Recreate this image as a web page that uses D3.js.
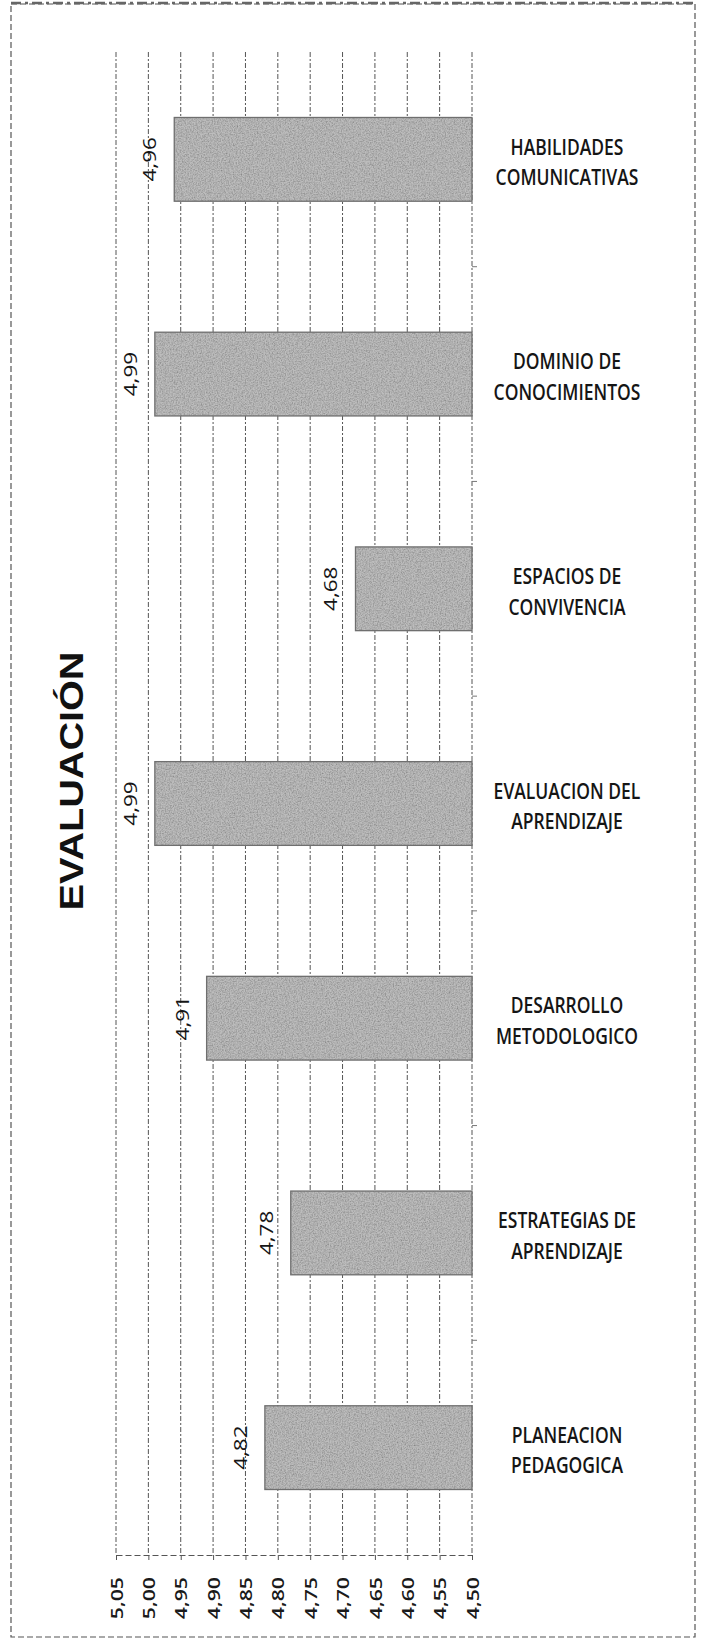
<!DOCTYPE html>
<html>
<head>
<meta charset="utf-8">
<script src="https://cdn.jsdelivr.net/npm/d3@7/dist/d3.min.js"></script>
<style>
  html, body { margin: 0; padding: 0; background: #fff; }
  svg { display: block; }
</style>
</head>
<body>
<div id="chart"></div>
<script>
// ---- data ----
const title = "EVALUACIÓN";
const categories = [
  ["HABILIDADES", "COMUNICATIVAS"],
  ["DOMINIO DE", "CONOCIMIENTOS"],
  ["ESPACIOS DE", "CONVIVENCIA"],
  ["EVALUACION DEL", "APRENDIZAJE"],
  ["DESARROLLO", "METODOLOGICO"],
  ["ESTRATEGIAS DE", "APRENDIZAJE"],
  ["PLANEACION", "PEDAGOGICA"]
];
const values = [4.96, 4.99, 4.68, 4.99, 4.91, 4.78, 4.82];
const tickValues = [5.05, 5.00, 4.95, 4.90, 4.85, 4.80, 4.75, 4.70, 4.65, 4.60, 4.55, 4.50];
const axisMax = 5.05, axisMin = 4.50;

// ---- layout ----
const W = 701, H = 1643;
const SY = 1.25; // vertical stretch of the scanned text
const fmt = d => d.toFixed(2).replace(".", ",");

const svg = d3.select("#chart").append("svg")
  .attr("width", W).attr("height", H);

// grain filter to mimic the scanned bar fill
const defs = svg.append("defs");
const f = defs.append("filter").attr("id", "grain")
  .attr("x", 0).attr("y", 0).attr("width", 1).attr("height", 1);
f.append("feTurbulence").attr("type", "fractalNoise").attr("baseFrequency", 0.75)
  .attr("numOctaves", 3).attr("seed", 4).attr("result", "noise");
f.append("feColorMatrix").attr("in", "noise").attr("type", "matrix")
  .attr("values", "0 0 0 0 0  0 0 0 0 0  0 0 0 0 0  0.9 0 0 0 -0.3")
  .attr("result", "dark");
f.append("feComposite").attr("in", "dark").attr("in2", "SourceGraphic")
  .attr("operator", "in").attr("result", "darkIn");
const fm = f.append("feMerge");
fm.append("feMergeNode").attr("in", "SourceGraphic");
fm.append("feMergeNode").attr("in", "darkIn");

svg.append("rect").attr("width", W).attr("height", H).attr("fill", "#fff");

// outer dashed frame
svg.append("rect")
  .attr("x", 11).attr("y", 4).attr("width", 684).attr("height", 1633)
  .attr("fill", "none").attr("stroke", "#555").attr("stroke-width", 1.2)
  .attr("stroke-dasharray", "6,3");
svg.append("line")
  .attr("x1", 11).attr("x2", 695).attr("y1", 3).attr("y2", 3)
  .attr("stroke", "#666").attr("stroke-width", 2.5).attr("stroke-dasharray", "10,4,3,4");

const x = d3.scaleLinear().domain([axisMax, axisMin]).range([116, 472]);
const keys = categories.map(c => c.join(" "));
const y = d3.scaleBand().domain(keys).range([52, 1555]).paddingInner(0.61).paddingOuter(0.305);

// vertical gridlines
svg.append("g").selectAll("line").data(tickValues).join("line")
  .attr("x1", d => x(d)).attr("x2", d => x(d))
  .attr("y1", y.range()[0]).attr("y2", y.range()[1])
  .attr("stroke", "#555").attr("stroke-width", 1)
  .attr("stroke-dasharray", "5,2,2,2");

// bottom value axis
const xAxis = d3.axisBottom(x).tickValues(tickValues).tickFormat(fmt).tickSize(5).tickSizeOuter(0);
const gx = svg.append("g").attr("transform", `translate(0,${y.range()[1]})`).call(xAxis);
gx.select(".domain").attr("stroke", "#555").attr("stroke-dasharray", "6,3");
gx.selectAll(".tick line").attr("stroke", "#555");
gx.selectAll(".tick text")
  .attr("x", null).attr("y", null).attr("dy", "0.36em")
  .attr("transform", `translate(0,22) scale(1,${SY}) rotate(-90)`)
  .attr("text-anchor", "end")
  .attr("font-family", "'Open Sans', sans-serif").attr("font-size", 17).attr("font-weight", 600)
  .attr("fill", "#1a1a1a");

// category axis ticks (on the 4,50 line)
const boundaries = keys.slice(1).map(k => y(k) - y.step() * y.paddingInner() / 2);
svg.append("g").selectAll("line").data(boundaries).join("line")
  .attr("x1", x(axisMin)).attr("x2", x(axisMin) + 5)
  .attr("y1", d => d).attr("y2", d => d)
  .attr("stroke", "#777").attr("stroke-width", 1);

// bars
svg.append("g").selectAll("rect").data(values).join("rect")
  .attr("x", d => x(d))
  .attr("y", (d, i) => y(keys[i]))
  .attr("width", d => x(axisMin) - x(d))
  .attr("height", y.bandwidth())
  .attr("fill", "#bdbdbd")
  .attr("filter", "url(#grain)");
svg.append("g").selectAll("rect").data(values).join("rect")
  .attr("x", d => x(d))
  .attr("y", (d, i) => y(keys[i]))
  .attr("width", d => x(axisMin) - x(d))
  .attr("height", y.bandwidth())
  .attr("fill", "none")
  .attr("stroke", "#6f6f6f").attr("stroke-width", 1.3);

// value labels
svg.append("g").selectAll("text").data(values).join("text")
  .attr("transform", (d, i) => `translate(${x(d) - 18},${y(keys[i]) + y.bandwidth() / 2}) scale(1,${SY}) rotate(-90)`)
  .attr("text-anchor", "middle")
  .attr("font-family", "'Open Sans', sans-serif").attr("font-size", 18)
  .attr("fill", "#151515")
  .text(fmt);

// category labels
const cl = svg.append("g").selectAll("text").data(categories).join("text")
  .attr("transform", (d, i) => `translate(567,${y(keys[i]) + y.bandwidth() / 2}) scale(1,1.2)`)
  .attr("text-anchor", "middle")
  .attr("font-family", "'Open Sans', sans-serif").attr("font-size", 17.5).attr("font-weight", 600)
  .attr("fill", "#151515");
cl.selectAll("tspan").data(d => d).join("tspan")
  .attr("x", 0).attr("y", (d, j) => j === 0 ? -4 : 21.5)
  .text(d => d);

// title
svg.append("text")
  .attr("transform", `translate(71,781) scale(1,1.2) rotate(-90)`)
  .attr("text-anchor", "middle").attr("dy", "0.36em")
  .attr("font-family", "'Liberation Sans', Arial, sans-serif").attr("font-size", 33).attr("font-weight", 700)
  .attr("fill", "#111")
  .text(title);
</script>
</body>
</html>
